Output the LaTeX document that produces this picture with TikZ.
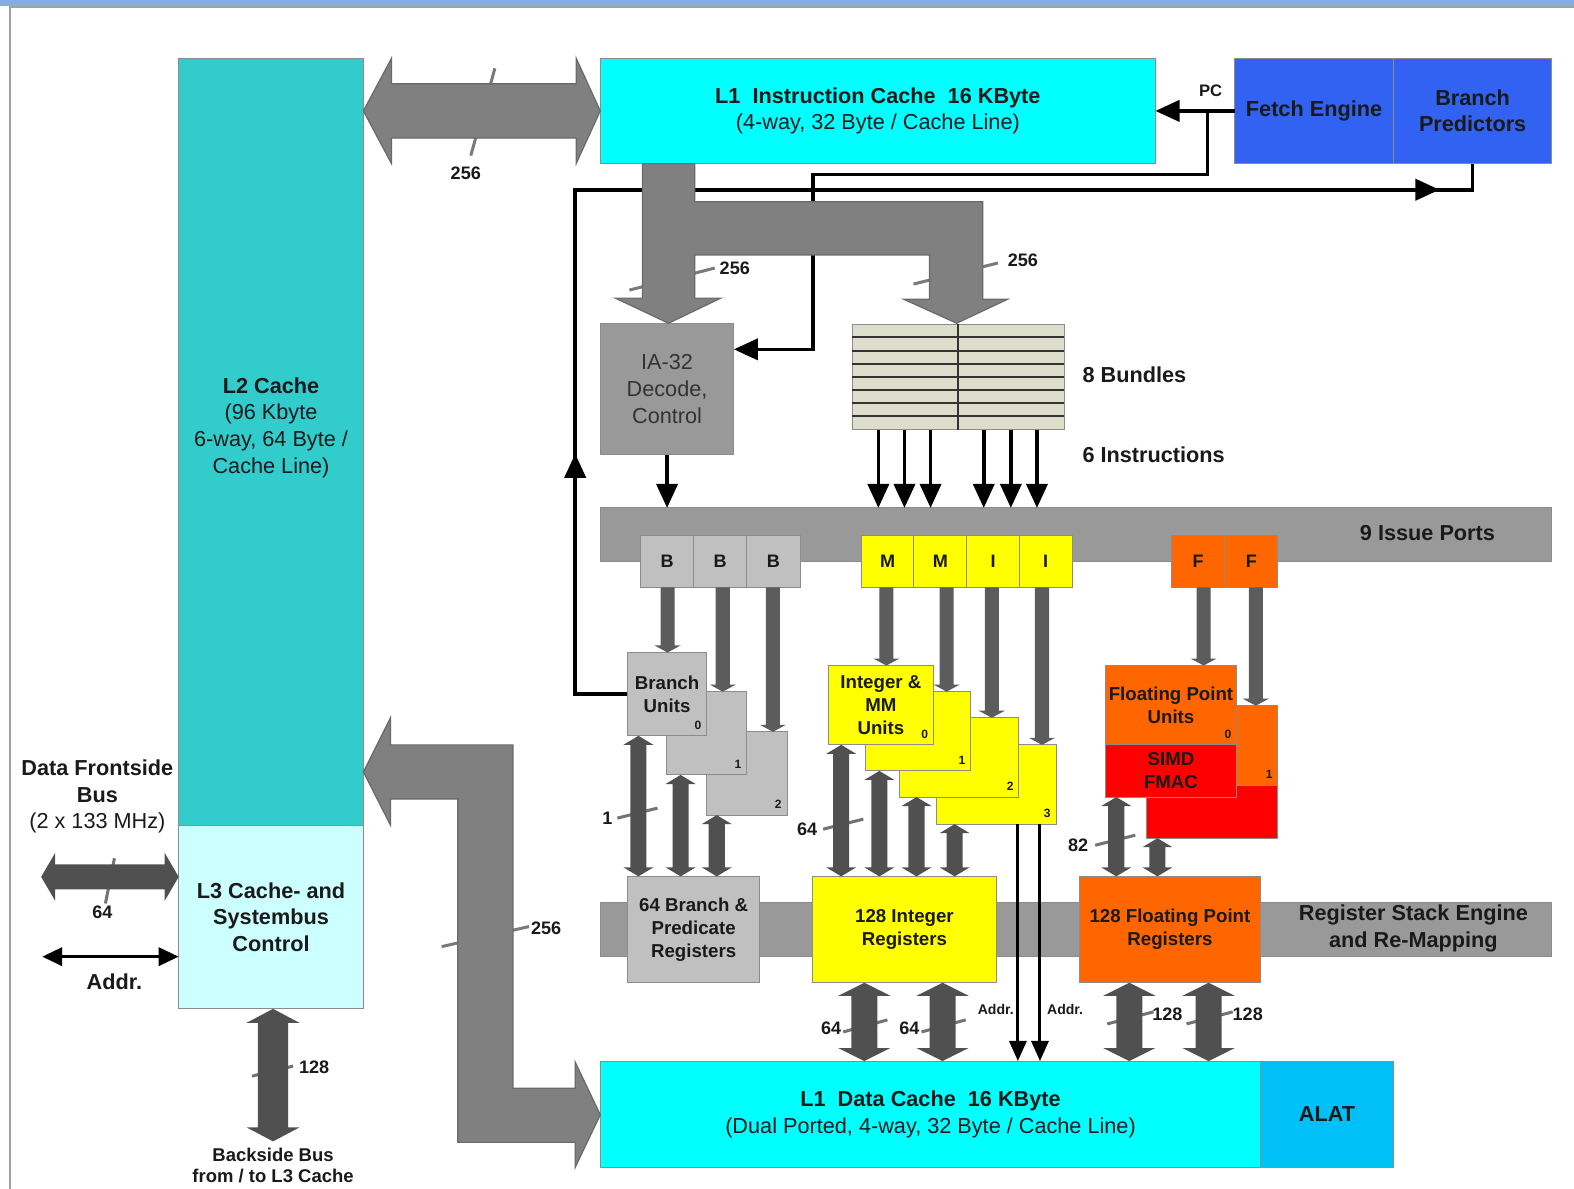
\documentclass[tikz,border=0pt]{standalone}
\usepackage{fontspec}
\setmainfont{Liberation Sans}
\usetikzlibrary{arrows.meta}
\pgfdeclarelayer{back}
\pgfsetlayers{back,main}
\definecolor{topbar}{HTML}{86AEDC}
\definecolor{framec}{HTML}{A0A0A0}
\definecolor{ltwo}{HTML}{33CCCC}
\definecolor{lthree}{HTML}{CCFFFF}
\definecolor{cyn}{HTML}{00FFFF}
\definecolor{alatc}{HTML}{00C0F8}
\definecolor{fblue}{HTML}{3162F2}
\definecolor{midgray}{HTML}{999999}
\definecolor{ltgray}{HTML}{C0C0C0}
\definecolor{beige}{HTML}{DDDDCC}
\definecolor{yel}{HTML}{FFFF00}
\definecolor{org}{HTML}{FF6600}
\definecolor{rd}{HTML}{FF0000}
\definecolor{busc}{HTML}{808080}
\definecolor{busedge}{HTML}{6A6A6A}
\definecolor{darkc}{HTML}{505050}
\definecolor{portc}{HTML}{5C5C5C}
\definecolor{txt}{HTML}{1A1A1A}
\definecolor{tickc}{HTML}{7A7A7A}
\newcommand\myfs[2]{\fontsize{#1}{#2}\selectfont}
% style, name, x1, y1, x2, y2, text
\newcommand\rbox[7][]{\node[rb,#1,minimum width={(#5-#3)*0.5pt},minimum height={(#6-#4)*0.5pt}] (#2) at ({(#3+#5)/2},{(#4+#6)/2}) {#7};}
% vertical double arrow: style, cx, ytop, ybot, shaft half, head half, head length
\newcommand\vdarr[7][]{\fill[#1] ({#2},{#3}) -- ({#2+#6},{#3+#7}) -- ({#2+#5},{#3+#7}) -- ({#2+#5},{#4-#7}) -- ({#2+#6},{#4-#7}) -- ({#2},{#4}) -- ({#2-#6},{#4-#7}) -- ({#2-#5},{#4-#7}) -- ({#2-#5},{#3+#7}) -- ({#2-#6},{#3+#7}) -- cycle;}
% horizontal double arrow: style, cy, xleft, xright, shaft half, head half, head length
\newcommand\hdarr[7][]{\fill[#1] ({#3},{#2}) -- ({#3+#7},{#2-#6}) -- ({#3+#7},{#2-#5}) -- ({#4-#7},{#2-#5}) -- ({#4-#7},{#2-#6}) -- ({#4},{#2}) -- ({#4-#7},{#2+#6}) -- ({#4-#7},{#2+#5}) -- ({#3+#7},{#2+#5}) -- ({#3+#7},{#2+#6}) -- cycle;}
% vertical single down arrow
\newcommand\vsarr[7][]{\fill[#1] ({#2-#5},{#3}) -- ({#2+#5},{#3}) -- ({#2+#5},{#4-#7}) -- ({#2+#6},{#4-#7}) -- ({#2},{#4}) -- ({#2-#6},{#4-#7}) -- ({#2-#5},{#4-#7}) -- cycle;}
\tikzset{
  rb/.style={draw=black!45, line width=0.5pt, inner sep=0pt, outer sep=0pt, align=center, text=txt, font=\myfs{10.8}{13.25}},
  bigf/.style={font=\bfseries\myfs{10.8}{13.25}},
  medf/.style={font=\myfs{10.8}{13.25}},
  unitf/.style={font=\bfseries\myfs{9.3}{11.4}},
  portf/.style={font=\bfseries\myfs{9}{11}},
  num/.style={font=\bfseries\myfs{6}{7}, text=txt, inner sep=0pt},
  lab/.style={text=txt, inner sep=0pt, align=center},
  blk/.style={draw=black, line width=1.8pt},
  ahd/.style={-{Triangle[length=12pt,width=10.5pt]}},
  ahdsm/.style={-{Triangle[length=10pt,width=8.5pt]}},
  busp/.style={fill=busc, draw=busedge, line width=0.6pt},
  tickl/.style={draw=tickc, line width=1.5pt},
  tickd/.style={draw=darkc!80, line width=1.5pt},
}
\begin{document}
\begin{tikzpicture}[x=0.5pt,y=-0.5pt]
\useasboundingbox (0,0) rectangle (1568,1184);
% frame
\fill[topbar] (0,0) rectangle (1568,6);
\draw[framec, line width=1pt] (10,1184) -- (10,7) -- (1568,7);

% ---------- boxes ----------
\rbox[fill=ltwo]{l2}{178}{58}{362}{822}{}
\rbox[fill=lthree, bigf]{l3}{178}{822}{362}{1005}{L3 Cache- and\\Systembus\\Control}
\rbox[fill=cyn]{l1i}{598}{58}{1151}{163}{\textbf{L1~~Instruction Cache~~16 KByte}\\(4-way, 32 Byte / Cache Line)}
\rbox[fill=fblue, bigf]{fe}{1230}{58}{1388}{163}{Fetch Engine}
\rbox[fill=fblue, bigf]{bp}{1388}{58}{1546}{163}{Branch\\Predictors}
\rbox[fill=midgray, text=black!80]{ia}{598}{322}{731}{453}{IA-32\\Decode,\\Control}
\rbox[fill=beige]{bun}{849}{323}{1060}{428}{}
\foreach \k in {1,...,7} \draw[black!80, line width=1pt] (849,{323+\k*13.125}) -- (1060,{323+\k*13.125});
\draw[black!80, line width=1pt] (bun.north) -- (bun.south);

\rbox[fill=midgray]{iss}{598}{506}{1546}{559}{}
\rbox[fill=ltgray, portf]{pb0}{638}{533}{691}{585}{B}
\rbox[fill=ltgray, portf]{pb1}{691}{533}{744}{585}{B}
\rbox[fill=ltgray, portf]{pb2}{744}{533}{797}{585}{B}
\rbox[fill=yel, portf]{pm0}{858}{533}{910.5}{585}{M}
\rbox[fill=yel, portf]{pm1}{910.5}{533}{963}{585}{M}
\rbox[fill=yel, portf]{pi0}{963}{533}{1015.5}{585}{I}
\rbox[fill=yel, portf]{pi1}{1015.5}{533}{1068}{585}{I}
\rbox[fill=org, portf]{pf0}{1167}{533}{1220}{585}{F}
\rbox[fill=org, portf]{pf1}{1220}{533}{1273}{585}{F}

% branch units
\rbox[fill=ltgray]{bu2}{704}{729}{784}{812}{}
\rbox[fill=ltgray]{bu1}{664}{689}{744}{772}{}
\rbox[fill=ltgray, unitf]{bu0}{625}{650}{704}{733}{Branch\\Units}
% integer units
\rbox[fill=yel]{iu3}{933}{742}{1052}{821}{}
\rbox[fill=yel]{iu2}{896}{715}{1015}{794}{}
\rbox[fill=yel]{iu1}{862}{689}{967}{768}{}
\rbox[fill=yel, unitf]{iu0}{825}{663}{930}{742}{Integer \&\\MM\\Units}
% fp units
\rbox[fill=org]{fu1}{1142}{703}{1273}{782}{}
\rbox[fill=rd]{fu1s}{1142}{782}{1273}{835}{}
\rbox[fill=org, unitf]{fu0}{1101}{663}{1232}{742}{Floating Point\\Units}
\rbox[fill=rd, unitf]{fu0s}{1101}{742}{1232}{794}{SIMD\\FMAC}
% unit numbers
\node[num, anchor=south east] (nb0) at ([shift={(-5,-6)}]bu0.south east) {0};
\node[num, anchor=south east] (nb1) at ([shift={(-5,-6)}]bu1.south east) {1};
\node[num, anchor=south east] (nb2) at ([shift={(-5,-6)}]bu2.south east) {2};
\node[num, anchor=south east] (ni0) at ([shift={(-5,-6)}]iu0.south east) {0};
\node[num, anchor=south east] (ni1) at ([shift={(-5,-6)}]iu1.south east) {1};
\node[num, anchor=south east] (ni2) at ([shift={(-5,-6)}]iu2.south east) {2};
\node[num, anchor=south east] (ni3) at ([shift={(-5,-6)}]iu3.south east) {3};
\node[num, anchor=south east] (nf0) at ([shift={(-5,-6)}]fu0.south east) {0};
\node[num, anchor=south east] (nf1) at ([shift={(-5,-6)}]fu1.south east) {1};

% register row
\rbox[fill=midgray]{rbar}{598}{899}{1546}{953}{}
\rbox[fill=ltgray, unitf]{bpr}{625}{873}{757}{979}{64 Branch \&\\Predicate\\Registers}
\rbox[fill=yel, unitf]{ir}{809}{873}{993}{979}{128 Integer\\Registers}
\rbox[fill=org, unitf]{fr}{1075}{873}{1256}{979}{128 Floating Point\\Registers}
\rbox[fill=cyn]{l1d}{598}{1057}{1256}{1163}{\textbf{L1~~Data Cache~~16 KByte}\\(Dual Ported, 4-way, 32 Byte / Cache Line)}
\rbox[fill=alatc, bigf]{alat}{1256}{1057}{1388}{1163}{ALAT}

% ---------- back layer: ticks and lines under buses ----------
\begin{pgfonlayer}{back}
\draw[tickl] (493,68) -- (469,155);
\draw[tickl] (627,289) -- (712,267);
\draw[tickl] (910,283) -- (994,262);
\draw[tickl] (440,943) -- (527,923);
\draw[tickd] (114,855) -- (105,900);
\draw[tickd] (251,1072) -- (292,1062);
\draw[tickd] (615,815) -- (655,805);
\draw[tickd] (820,826) -- (860,816);
\draw[tickd] (1091,842) -- (1131,832);
\draw[tickd] (840,1028) -- (884,1016);
\draw[tickd] (918,1028) -- (962,1016);
\draw[tickd] (1103,1020) -- (1149,1008);
\draw[tickd] (1182,1020) -- (1228,1008);
\coordinate (pcj) at (1203,111);
\coordinate (pc1) at (810,174);
\coordinate (pc2) at (810,348);
\draw[blk, ahd] (pcj) -- (pcj |- pc1) -- (pc1) -- (pc2) -- (ia.east |- pc2);
\coordinate (bl2) at (573,189);
\draw[blk] (bu0.west) -| (bl2) -- (bp.south |- bl2) -- (bp.south);
\draw[blk, ahd] (573,482) -- (573,452);
\draw[blk, ahd] (1400,189) -- (1434,189);
\end{pgfonlayer}

% ---------- buses ----------
\filldraw[busp] (362,110.5) -- (390,58) -- (390,83.5) -- (574,83.5) -- (574,58) -- (598,110.5) -- (574,163) -- (574,137.5) -- (390,137.5) -- (390,163) -- cycle;
\filldraw[busp] (640,163) -- (692,163) -- (692,201) -- (979,201) -- (979,298) -- (1004,298) -- (953,322) -- (900,298) -- (926,298) -- (926,254) -- (692,254) -- (692,297) -- (718,297) -- (666,322) -- (613,297) -- (640,297) -- cycle;
\filldraw[busp] (362,769) -- (389,715) -- (389,742) -- (511,742) -- (511,1084) -- (573,1084) -- (573,1058) -- (598,1110.5) -- (573,1163) -- (573,1138) -- (456,1138) -- (456,796) -- (389,796) -- (389,822) -- cycle;

% ---------- black arrows ----------
\draw[blk, ahd] (fe.west) -- (l1i.east);
\draw[blk, ahd] (ia.south) -- (ia.south |- iss.north);
\foreach \x in {875,901,927,980,1007,1033}
  \draw[blk, ahd] (\x,0 |- bun.south) -- (\x,0 |- iss.north);
\draw[blk, line width=1.5pt, ahdsm] (1014,0 |- iu3.south) -- (1014,0 |- l1d.north);
\draw[blk, line width=1.5pt, ahdsm] (1036,0 |- iu3.south) -- (1036,0 |- l1d.north);
\coordinate (faddr) at (42,953);
\draw[blk, {Triangle[length=10pt,width=9pt]}-{Triangle[length=10pt,width=9pt]}] (faddr) -- (faddr -| l3.west);

% ---------- port arrows ----------
\vsarr[portc]{665}{585}{650}{7}{13}{7}
\vsarr[portc]{720}{585}{689}{7}{13}{7}
\vsarr[portc]{770}{585}{729}{7}{13}{7}
\vsarr[portc]{883}{585}{663}{7}{13}{7}
\vsarr[portc]{943}{585}{689}{7}{13}{7}
\vsarr[portc]{988}{585}{715}{7}{13}{7}
\vsarr[portc]{1038}{585}{742}{7}{13}{7}
\vsarr[portc]{1199}{585}{663}{7}{13}{7}
\vsarr[portc]{1251}{585}{703}{7}{13}{7}

% ---------- dark double arrows ----------
\hdarr[darkc]{873.5}{41}{178}{12.5}{24}{14}
\vdarr[darkc]{272}{1005}{1137}{15}{26.5}{14}
\vdarr[darkc]{636}{733}{873}{8}{15}{9}
\vdarr[darkc]{678}{772}{873}{8}{15}{9}
\vdarr[darkc]{714}{812}{873}{8}{15}{9}
\vdarr[darkc]{838}{742}{873}{8}{15}{9}
\vdarr[darkc]{876}{768}{873}{8}{15}{9}
\vdarr[darkc]{913}{794}{873}{8}{15}{9}
\vdarr[darkc]{951}{821}{873}{8}{15}{9}
\vdarr[darkc]{1112}{794}{873}{8}{15}{9}
\vdarr[darkc]{1153}{835}{873}{8}{15}{9}
\vdarr[darkc]{861}{979}{1057}{13}{26}{13}
\vdarr[darkc]{939}{979}{1057}{13}{26}{13}
\vdarr[darkc]{1125}{979}{1057}{13}{26}{13}
\vdarr[darkc]{1204}{979}{1057}{13}{26}{13}

% ---------- labels ----------
\node[lab, medf] (l2t) at (270,426) {\textbf{L2 Cache}\\(96 Kbyte\\6-way, 64 Byte /\\Cache Line)};
\node[lab, medf] (fsb) at (97,793.5) {\textbf{Data Frontside}\\\textbf{Bus}\\(2 x 133 MHz)};
\node[lab, portf] (w64a) at (102,909) {64};
\node[lab, bigf] (addrl) at (114,978) {Addr.};
\node[lab, portf] (w128a) at (313,1063) {128};
\node[lab, font=\bfseries\myfs{9.2}{10.6}] (bsb) at (272,1161) {Backside Bus\\from / to L3 Cache};
\node[lab, portf] (w256a) at (464,173) {256};
\node[lab, portf] (w256b) at (732,267) {256};
\node[lab, portf] (w256c) at (1019,259) {256};
\node[lab, portf] (w256d) at (544,925) {256};
\node[lab, font=\bfseries\myfs{8.3}{10}] (pcl) at (1206,90) {PC};
\node[lab, bigf, anchor=west] (bundl) at (1078,373) {8 Bundles};
\node[lab, bigf, anchor=west] (instl) at (1078,453) {6 Instructions};
\node[lab, bigf] (issl) at (1422,531) {9 Issue Ports};
\node[lab, bigf] (rse) at (1408,925) {Register Stack Engine\\and Re-Mapping};
\node[lab, portf] (w1) at (605,815) {1};
\node[lab, portf] (w64b) at (804,826) {64};
\node[lab, portf] (w82) at (1074,842) {82};
\node[lab, portf] (w64c) at (828,1024) {64};
\node[lab, portf] (w64d) at (906,1024) {64};
\node[lab, portf] (w128b) at (1163,1010) {128};
\node[lab, portf] (w128c) at (1243,1010) {128};
\node[lab, font=\bfseries\myfs{7}{8}] (ad1) at (992,1006) {Addr.};
\node[lab, font=\bfseries\myfs{7}{8}] (ad2) at (1061,1006) {Addr.};
\end{tikzpicture}
\end{document}
